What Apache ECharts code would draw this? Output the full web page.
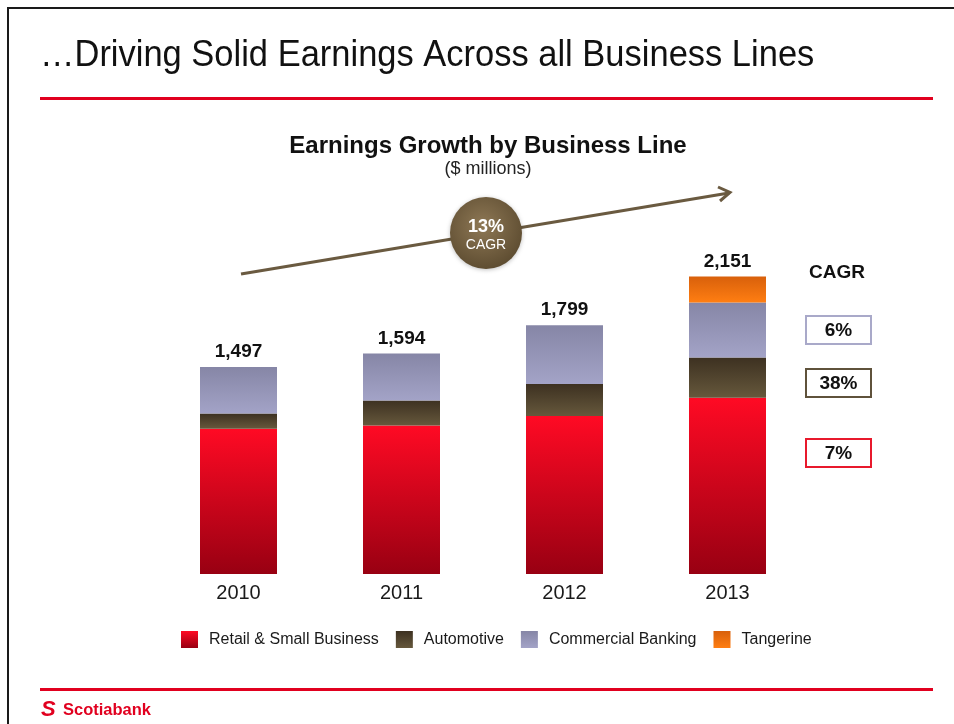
<!DOCTYPE html>
<html>
<head>
<meta charset="utf-8">
<title>Earnings Growth by Business Line</title>
<script src="https://cdn.jsdelivr.net/npm/echarts@6/dist/echarts.min.js"></script>
<style>
  html, body { margin: 0; padding: 0; background: #fff; }
  #chart { width: 954px; height: 724px; }
</style>
</head>
<body>
<div id="chart"></div>
<script>
// Earnings by business line, $ millions
const years = ['2010', '2011', '2012', '2013'];
const retailSmallBusiness = [1050, 1073, 1142, 1275];
const automotive = [110, 182, 231, 290];
const commercialBanking = [337, 339, 426, 398];
const tangerine = [0, 0, 0, 188];

// Compound annual growth rates shown beside the 2013 bar
const cagrLabels = ['6%', '38%', '7%'];
const overallCagr = '13%';

const FONT = '"Liberation Sans", Arial, Helvetica, sans-serif';

const totals = years.map((_, i) =>
  retailSmallBusiness[i] + automotive[i] + commercialBanking[i] + tangerine[i]);

function vGrad(top, bottom) {
  return new echarts.graphic.LinearGradient(0, 0, 0, 1, [
    { offset: 0, color: top },
    { offset: 1, color: bottom }
  ]);
}

function centered(x, y, text, size, bold, fill) {
  return {
    type: 'text', x: x, y: y,
    style: { text: text, fontSize: size, fontWeight: bold ? 'bold' : 'normal',
             fill: fill || '#111', fontFamily: FONT, align: 'center', verticalAlign: 'middle' }
  };
}

const chart = echarts.init(document.getElementById('chart'), null, { renderer: 'canvas' });

const barBase = { type: 'bar', stack: 'earnings', barWidth: 77, emphasis: { disabled: true } };

const option = {
  animation: false,
  backgroundColor: '#ffffff',
  textStyle: { fontFamily: FONT },
  grid: { left: 157, width: 652, top: 242, height: 332 },
  xAxis: {
    type: 'category',
    data: years,
    axisLine: { show: false },
    axisTick: { show: false },
    axisLabel: { fontSize: 20, color: '#1a1a1a', margin: 9, fontFamily: FONT }
  },
  yAxis: { type: 'value', min: 0, max: 2400, show: false, splitLine: { show: false } },
  legend: {
    data: ['Retail & Small Business', 'Automotive', 'Commercial Banking', 'Tangerine'],
    left: 176,
    top: 626,
    itemWidth: 17,
    itemHeight: 17,
    itemGap: 17,
    icon: 'rect',
    textStyle: { fontSize: 16, color: '#1a1a1a', fontFamily: FONT, padding: [0, 0, 0, 6] }
  },
  series: [
    Object.assign({}, barBase, {
      name: 'Retail & Small Business',
      data: retailSmallBusiness,
      itemStyle: { color: vGrad('#ff0a24', '#980012') }
    }),
    Object.assign({}, barBase, {
      name: 'Automotive',
      data: automotive,
      itemStyle: { color: vGrad('#3d3121', '#66583c') }
    }),
    Object.assign({}, barBase, {
      name: 'Commercial Banking',
      data: commercialBanking,
      itemStyle: { color: vGrad('#8686a6', '#a3a3c7') }
    }),
    Object.assign({}, barBase, {
      name: 'Tangerine',
      data: tangerine,
      itemStyle: { color: vGrad('#d8600b', '#ff7e12') }
    }),
    {
      // bar totals, written above each stack
      name: 'Total',
      type: 'scatter',
      data: totals,
      symbol: 'circle',
      symbolSize: 1,
      itemStyle: { color: 'rgba(0,0,0,0)', opacity: 1 },
      silent: true,
      label: {
        show: true,
        position: 'top',
        distance: 5,
        fontSize: 19,
        fontWeight: 'bold',
        color: '#111',
        opacity: 1,
        fontFamily: FONT,
        formatter: p => p.value.toLocaleString('en-US')
      }
    }
  ],
  graphic: [
    // slide frame
    { type: 'rect', shape: { x: 8, y: 8, width: 1000, height: 800 },
      style: { fill: 'none', stroke: '#1a1a1a', lineWidth: 2 }, silent: true },
    // headline and rules
    { type: 'text', x: 40, y: 56, scaleX: 0.932,
      style: { text: '\u2026Driving Solid Earnings Across all Business Lines', fontSize: 37,
               fill: '#111', fontFamily: FONT, verticalAlign: 'middle' } },
    { type: 'rect', shape: { x: 40, y: 97, width: 893, height: 3 }, style: { fill: '#e1001f' } },
    { type: 'rect', shape: { x: 40, y: 688, width: 893, height: 3 }, style: { fill: '#e1001f' } },
    // chart title
    centered(488, 146, 'Earnings Growth by Business Line', 24, true),
    centered(488, 169, '($ millions)', 18, false, '#222'),
    // growth arrow
    { type: 'line', shape: { x1: 241, y1: 274, x2: 729, y2: 193 },
      style: { stroke: '#6a5a40', lineWidth: 3 } },
    { type: 'polyline', shape: { points: [[718, 187], [730, 192.5], [720, 201]] },
      style: { stroke: '#6a5a40', lineWidth: 3, fill: 'none' } },
    { type: 'circle', shape: { cx: 486, cy: 233, r: 36 },
      style: {
        fill: new echarts.graphic.RadialGradient(0.45, 0.4, 0.65, [
          { offset: 0, color: '#8e7855' },
          { offset: 1, color: '#5b4a2f' }
        ]),
        shadowBlur: 4, shadowColor: 'rgba(0,0,0,0.25)', shadowOffsetY: 1
      } },
    centered(486, 227, overallCagr, 18, true, '#fff'),
    centered(486, 245.5, 'CAGR', 14, false, '#fff'),
    // segment CAGR boxes
    centered(837, 273, 'CAGR', 19, true),
    { type: 'rect', shape: { x: 806, y: 316, width: 65, height: 28 },
      style: { fill: '#fff', stroke: '#a9a9c9', lineWidth: 2 } },
    centered(838.5, 331, cagrLabels[0], 19, true),
    { type: 'rect', shape: { x: 806, y: 369, width: 65, height: 28 },
      style: { fill: '#fff', stroke: '#5f523b', lineWidth: 2 } },
    centered(838.5, 384, cagrLabels[1], 19, true),
    { type: 'rect', shape: { x: 806, y: 439, width: 65, height: 28 },
      style: { fill: '#fff', stroke: '#e8192c', lineWidth: 2 } },
    centered(838.5, 454, cagrLabels[2], 19, true),
    // footer wordmark
    { type: 'text', x: 41, y: 710,
      style: { text: 'S', fontSize: 22, fontWeight: 'bold', fontStyle: 'italic', fill: '#e1001f',
               fontFamily: FONT, verticalAlign: 'middle' } },
    { type: 'text', x: 63, y: 710,
      style: { text: 'Scotiabank', fontSize: 16.5, fontWeight: 'bold', fill: '#e1001f',
               fontFamily: FONT, verticalAlign: 'middle' } }
  ]
};

chart.setOption(option);
</script>
</body>
</html>
